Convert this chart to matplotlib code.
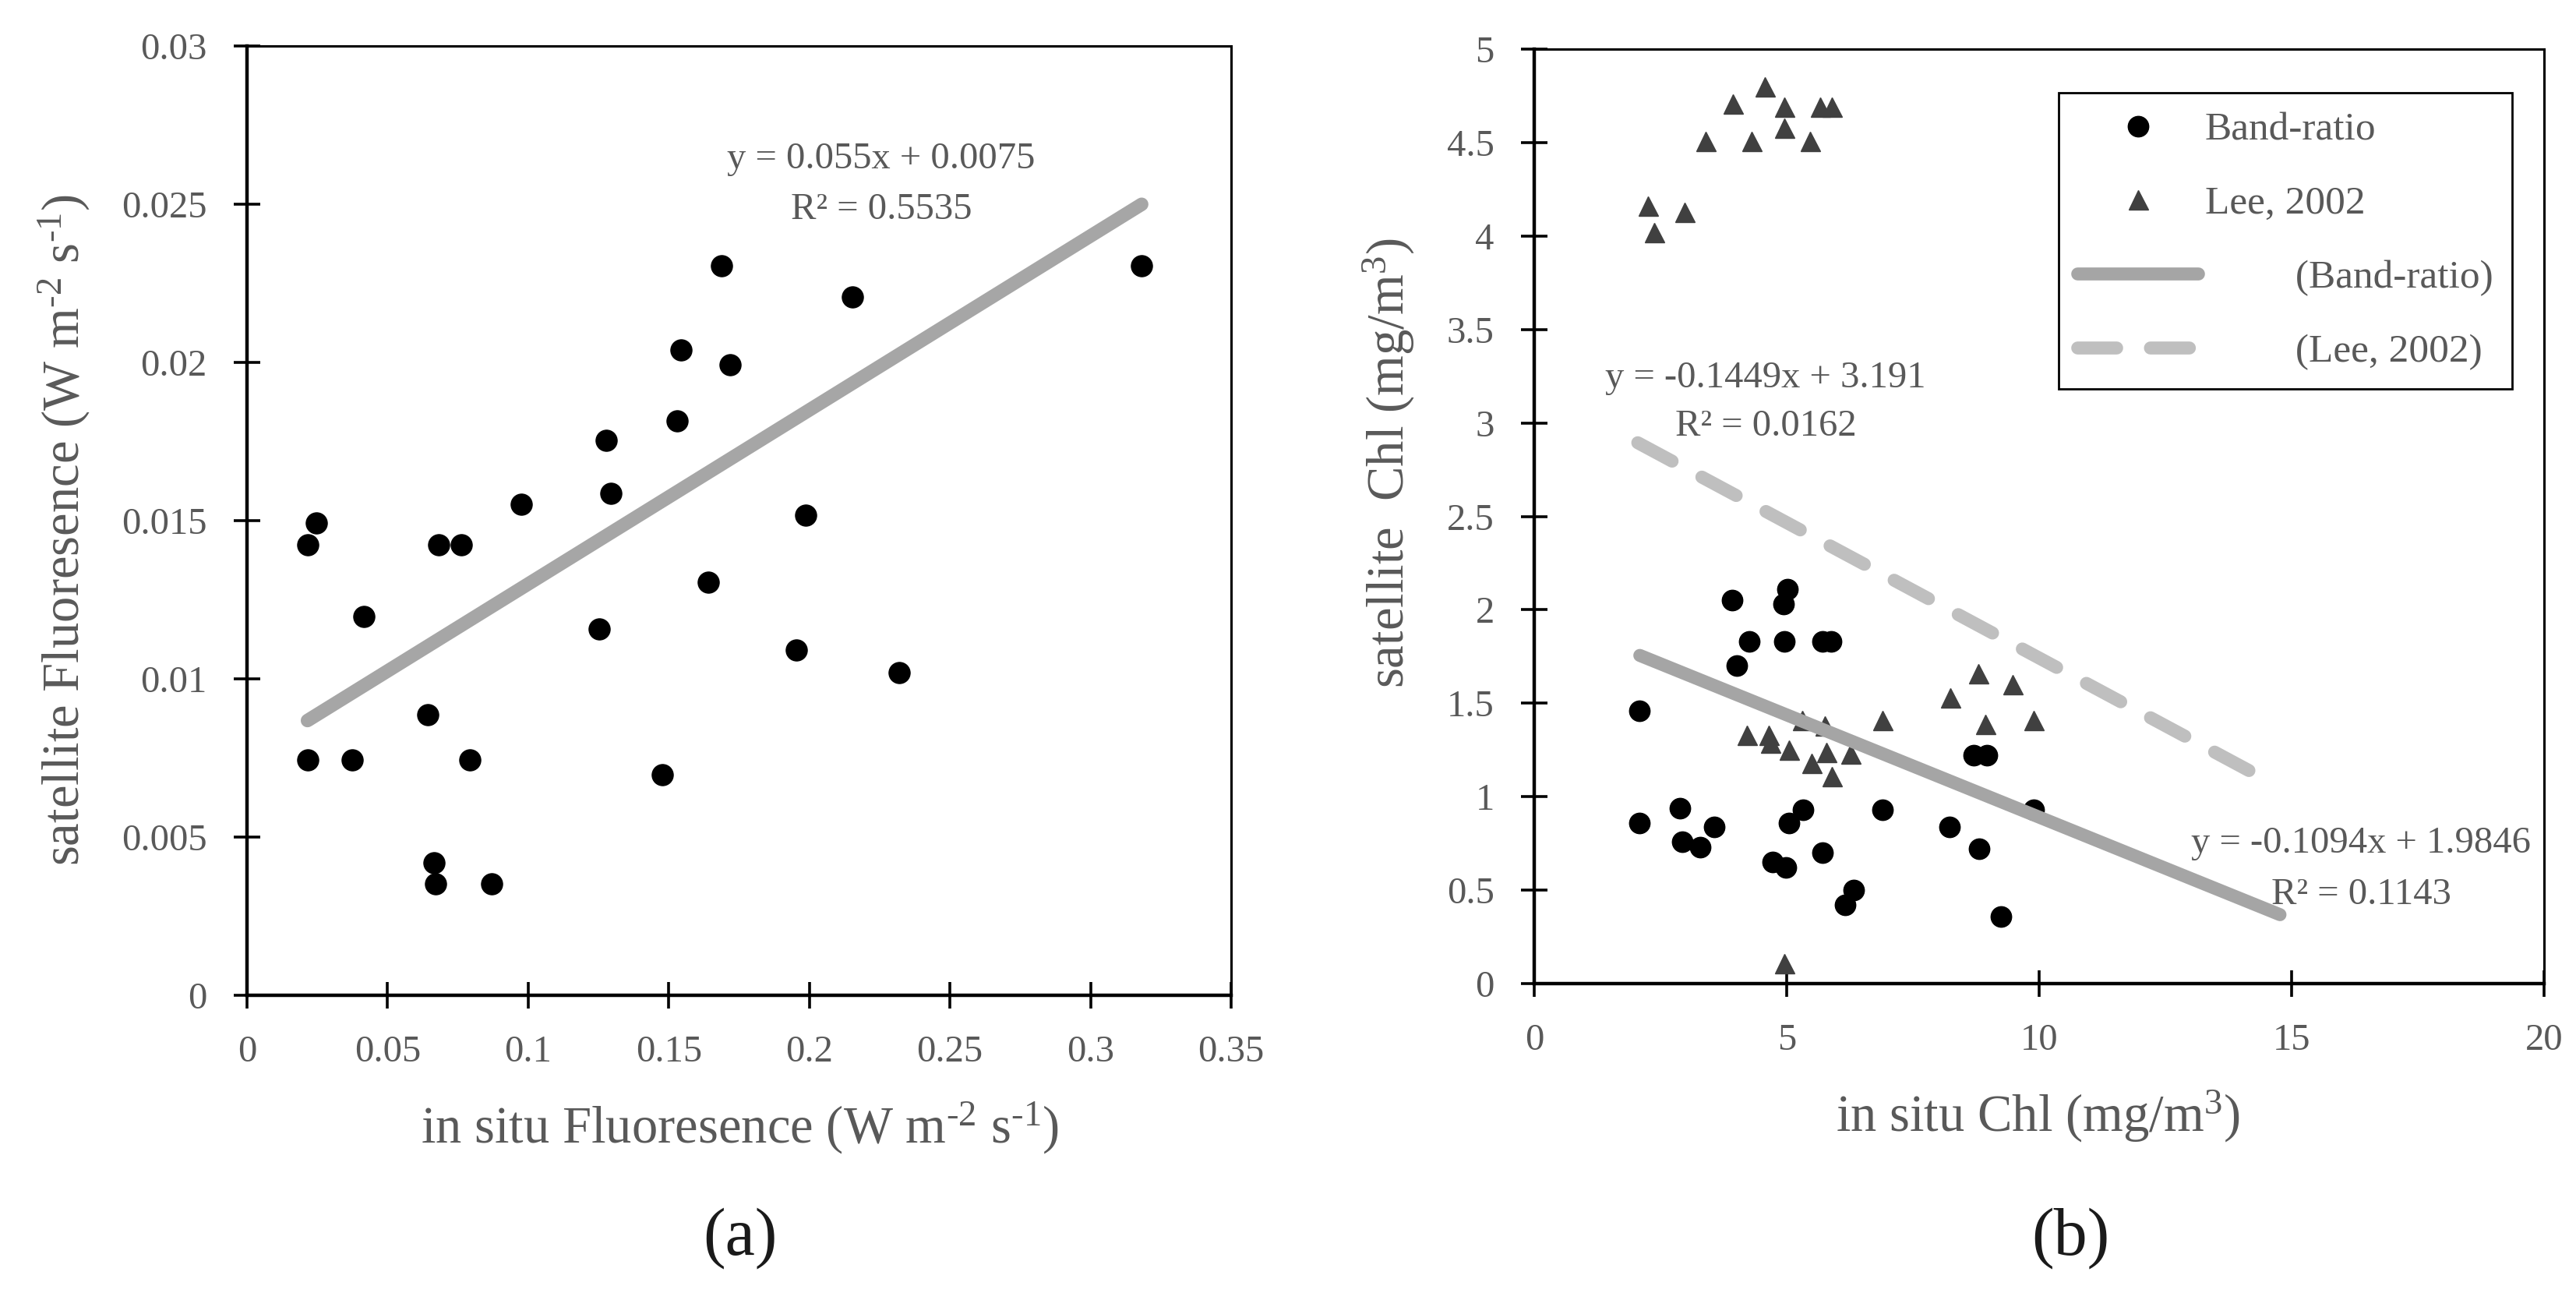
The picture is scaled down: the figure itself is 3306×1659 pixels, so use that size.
import matplotlib
matplotlib.use('Agg')
import matplotlib.pyplot as plt
from matplotlib.ticker import FuncFormatter

plt.rcParams['font.family'] = ['Liberation Serif', 'DejaVu Serif']
plt.rcParams['mathtext.fontset'] = 'custom'
plt.rcParams['mathtext.rm'] = 'Liberation Serif'
plt.rcParams['mathtext.it'] = 'Liberation Serif:italic'
plt.rcParams['mathtext.bf'] = 'Liberation Serif:bold'

# ---------------- data: panel (a) ----------------
a_insitu = [0.0215, 0.0247, 0.0416, 0.0215, 0.0374, 0.0642, 0.0682, 0.0762, 0.0793,
            0.0665, 0.0670, 0.0871, 0.0975, 0.1278, 0.1294, 0.1252, 0.1476, 0.1530,
            0.1544, 0.1687, 0.1719, 0.1640, 0.1987, 0.1955, 0.2154, 0.2320, 0.3182]
a_sat = [0.01424, 0.01494, 0.01198, 0.00745, 0.00745, 0.00886, 0.01424, 0.01424, 0.00745,
         0.00418, 0.00353, 0.00353, 0.01551, 0.01755, 0.01586, 0.01157, 0.00698, 0.01816,
         0.02039, 0.02306, 0.01992, 0.01306, 0.01518, 0.01090, 0.02208, 0.01020, 0.02306]
a_slope, a_intercept = 0.055, 0.0075
a_eq = ["y = 0.055x + 0.0075", "R² = 0.5535"]
a_xticks = [0, 0.05, 0.1, 0.15, 0.2, 0.25, 0.3, 0.35]
a_yticks = [0, 0.005, 0.01, 0.015, 0.02, 0.025, 0.03]

# ---------------- data: panel (b) ----------------
br_insitu = [2.09, 2.09, 2.89, 2.93, 3.29, 3.57, 3.92, 4.26, 4.01, 4.93, 5.01, 4.95, 5.71, 5.88,
             4.72, 4.99, 5.05, 5.32, 5.71, 6.16, 6.32, 6.90, 8.22, 8.81, 8.70, 8.96, 9.24, 9.89]
br_sat = [1.46, 0.86, 0.94, 0.76, 0.73, 0.84, 2.05, 1.83, 1.70, 2.03, 2.11, 1.83, 1.83, 1.83,
          0.65, 0.62, 0.86, 0.93, 0.70, 0.42, 0.50, 0.93, 0.84, 0.72, 1.22, 1.22, 0.36, 0.93]
lee_insitu = [2.26, 2.38, 2.98, 3.40, 3.94, 4.30, 4.57, 4.96, 4.95, 5.47, 5.67, 5.90,
              4.21, 4.64, 4.67, 5.05, 5.31, 5.75, 5.79, 5.50, 5.90, 6.26, 6.90, 8.24,
              8.80, 8.93, 9.48, 9.89, 4.96]
lee_sat = [4.16, 4.02, 4.13, 4.51, 4.71, 4.51, 4.80, 4.69, 4.58, 4.51, 4.69, 4.69,
           1.33, 1.33, 1.29, 1.25, 1.41, 1.38, 1.24, 1.18, 1.11, 1.23, 1.41, 1.53,
           1.66, 1.39, 1.60, 1.41, 0.11]
br_slope, br_intercept = -0.1094, 1.9846
lee_slope, lee_intercept = -0.1449, 3.191
br_fit_range = [2.09, 14.77]
lee_fit_range = [2.05, 14.30]
br_eq = ["y = -0.1094x + 1.9846", "R² = 0.1143"]
lee_eq = ["y = -0.1449x + 3.191", "R² = 0.0162"]
b_xticks = [0, 5, 10, 15, 20]
b_yticks = [0, 0.5, 1, 1.5, 2, 2.5, 3, 3.5, 4, 4.5, 5]
legend_labels = ["Band-ratio", "Lee, 2002", "(Band-ratio)", "(Lee, 2002)"]

GRAY_TXT = '#595959'
TICK_FS = 35
LABEL_FS = 48
EQ_FS = 35

fig = plt.figure(figsize=(33.06, 16.59), dpi=100)
axA = fig.add_axes([0.0959, 0.2303, 0.382, 0.734])
axB = fig.add_axes([0.5956, 0.2393, 0.392, 0.7227])

fmt = FuncFormatter(lambda v, p: '%g' % v)


def style(ax, xt, yt):
    ax.set_xticks(xt)
    ax.set_yticks(yt)
    ax.set_xlim(xt[0], xt[-1])
    ax.set_ylim(yt[0], yt[-1])
    ax.xaxis.set_major_formatter(fmt)
    ax.yaxis.set_major_formatter(fmt)
    ax.tick_params(direction='inout', length=24, width=2.6, color='black',
                   labelsize=TICK_FS, labelcolor=GRAY_TXT, pad=25,
                   top=False, right=False)
    for s in ['left', 'bottom']:
        ax.spines[s].set_linewidth(3.2)
    for s in ['top', 'right']:
        ax.spines[s].set_linewidth(2.2)
    for s in ax.spines.values():
        s.set_color('black')


HY = '\u2010'
unit_flu = 'W m$^{\\mathregular{' + HY + '2}}$ s$^{\\mathregular{' + HY + '1}}$'

# ---------------- panel (a) ----------------
style(axA, a_xticks, a_yticks)
axA.plot(a_insitu, a_sat, linestyle='none', marker='o', markersize=19.5,
         color='black', zorder=3)
ax_fit = [min(a_insitu), max(a_insitu)]
axA.plot(ax_fit, [a_slope * v + a_intercept for v in ax_fit], color='#A6A6A6',
         lw=12.5, solid_capstyle='round', zorder=4)
axA.text(0.6445, 0.881, a_eq[0], transform=axA.transAxes, ha='center', va='center',
         fontsize=EQ_FS, color=GRAY_TXT)
axA.text(0.6445, 0.828, a_eq[1], transform=axA.transAxes, ha='center', va='center',
         fontsize=EQ_FS, color=GRAY_TXT)
axA.set_xlabel('in situ Fluoresence (' + unit_flu + ')', fontsize=LABEL_FS, color=GRAY_TXT)
axA.set_ylabel('satellite Fluoresence (' + unit_flu + ')', fontsize=LABEL_FS, color=GRAY_TXT)
axA.xaxis.set_label_coords(0.501, -0.140)
axA.xaxis.label.set_va('center')
axA.yaxis.set_label_coords(-0.186, 0.49)
axA.yaxis.label.set_va('center')

# ---------------- panel (b) ----------------
style(axB, b_xticks, b_yticks)
h_br, = axB.plot(br_insitu, br_sat, linestyle='none', marker='o', markersize=19,
                 color='black', zorder=3)
h_lee, = axB.plot(lee_insitu, lee_sat, linestyle='none', marker='^', markersize=18,
                  color='#404040', zorder=3)
h_brfit, = axB.plot(br_fit_range, [br_slope * v + br_intercept for v in br_fit_range],
                    color='#A5A5A5', lw=12, solid_capstyle='round', zorder=4)
h_leefit, = axB.plot(lee_fit_range, [lee_slope * v + lee_intercept for v in lee_fit_range],
                     color='#BFBFBF', lw=12, dashes=(3.0, 2.6), dash_capstyle='round',
                     zorder=4)
axB.text(0.229, 0.648, lee_eq[0], transform=axB.transAxes, ha='center', va='center',
         fontsize=EQ_FS, color=GRAY_TXT)
axB.text(0.229, 0.596, lee_eq[1], transform=axB.transAxes, ha='center', va='center',
         fontsize=EQ_FS, color=GRAY_TXT)
axB.text(0.819, 0.150, br_eq[0], transform=axB.transAxes, ha='center', va='center',
         fontsize=EQ_FS, color=GRAY_TXT, zorder=5)
axB.text(0.819, 0.095, br_eq[1], transform=axB.transAxes, ha='center', va='center',
         fontsize=EQ_FS, color=GRAY_TXT, zorder=5)
axB.set_xlabel('in situ Chl (mg/m$^{\\mathregular{3}}$)', fontsize=LABEL_FS, color=GRAY_TXT)
axB.set_ylabel('satellite  Chl (mg/m$^{\\mathregular{3}}$)', fontsize=LABEL_FS, color=GRAY_TXT)
axB.xaxis.set_label_coords(0.499, -0.142)
axB.xaxis.label.set_va('center')
axB.yaxis.set_label_coords(-0.144, 0.557)
axB.yaxis.label.set_va('center')

pad = ' ' * 9
leg = axB.legend([h_br, h_lee, h_brfit, h_leefit],
                 [legend_labels[0], legend_labels[1], pad + legend_labels[2], pad + legend_labels[3]],
                 loc='upper right', bbox_to_anchor=(0.968, 0.953), borderaxespad=0,
                 fontsize=37, handlelength=3.03, handletextpad=0.16, labelspacing=0.93,
                 borderpad=0.47, numpoints=1, fancybox=False, framealpha=1,
                 edgecolor='black')
leg.get_frame().set_linewidth(2.0)
for t in leg.get_texts():
    t.set_color(GRAY_TXT)

fig.text(0.2874, 0.0422, '(a)', ha='center', va='center', fontsize=62, color='#1a1a1a')
fig.text(0.8037, 0.0422, '(b)', ha='center', va='center', fontsize=62, color='#1a1a1a')

fig.savefig('out.png', dpi=100)
